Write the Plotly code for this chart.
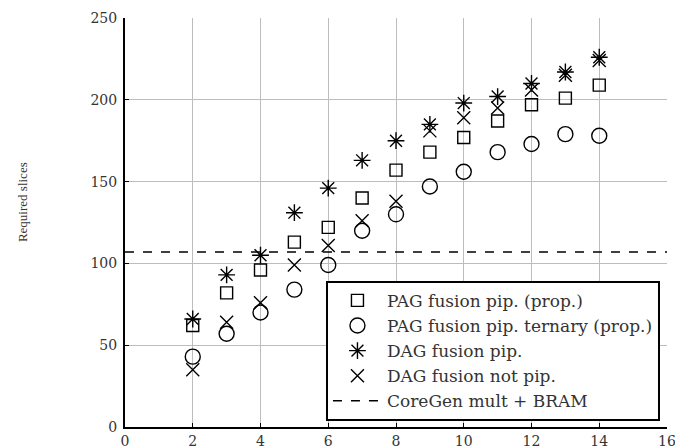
import plotly.graph_objects as go

x_vals = [2, 3, 4, 5, 6, 7, 8, 9, 10, 11, 12, 13, 14]
pag_pip = [62, 82, 96, 113, 122, 140, 157, 168, 177, 187, 197, 201, 209]
pag_ternary = [43, 57, 70, 84, 99, 120, 130, 147, 156, 168, 173, 179, 178]
dag_pip = [66, 93, 105, 131, 146, 163, 175, 185, 198, 202, 210, 217, 226]
dag_not_pip = [35, 64, 76, 99, 111, 126, 138, 181, 189, 195, 206, 215, 224]
coregen_x = [0, 16]
coregen_y = [107, 107]

names = ["PAG fusion pip. (prop.)", "PAG fusion pip. ternary (prop.)",
         "DAG fusion pip.", "DAG fusion not pip.", "CoreGen mult + BRAM"]

FONT = "DejaVu Serif"

fig = go.Figure()
series = [
    (pag_pip, "square-open", 12),
    (pag_ternary, "circle-open", 15),
    (dag_pip, "asterisk-open", 14),
    (dag_not_pip, "x-thin-open", 13),
]
for (vals, sym, sz), nm in zip(series, names[:4]):
    fig.add_trace(go.Scatter(
        x=x_vals, y=vals, mode="markers", name=nm,
        marker=dict(symbol=sym, size=sz, color="black",
                    line=dict(color="black", width=1.4)),
    ))
fig.add_trace(go.Scatter(
    x=coregen_x, y=coregen_y, mode="lines", name=names[4],
    line=dict(color="black", width=1.5, dash="dash"),
))

axis_common = dict(
    showgrid=True, gridcolor="#bdbdbd", gridwidth=1,
    zeroline=False, showline=True, linecolor="black", linewidth=2,
    ticks="inside", ticklen=4, tickcolor="black",
    tickfont=dict(family=FONT, size=14, color="#333"),
    ticklabeloverflow="allow",
)

fig.update_xaxes(range=[0, 16], tickvals=[0, 2, 4, 6, 8, 10, 12, 14, 16],
                 automargin=False, **axis_common)
fig.update_yaxes(range=[0, 250], tickvals=[0, 50, 100, 150, 200, 250],
                 automargin=False, ticklabelstandoff=3, **axis_common)

fig.add_annotation(
    text="Required slices", xref="paper", yref="paper",
    x=-0.19, y=0.55, textangle=-90, showarrow=False,
    font=dict(family="Liberation Serif", size=13, color="#333"),
    xanchor="center", yanchor="middle",
)

fig.update_layout(
    width=675, height=448,
    margin=dict(l=125, r=8, t=18, b=21),
    plot_bgcolor="white", paper_bgcolor="white",
    font=dict(family=FONT, color="#333"),
    legend=dict(
        x=0.987, y=0.015, xanchor="right", yanchor="bottom",
        bgcolor="white", bordercolor="black", borderwidth=2,
        font=dict(family=FONT, size=17, color="#333"),
        itemwidth=49,
    ),
    showlegend=True,
)

fig.write_html("out.html", config={"displayModeBar": False},
               post_script="document.body.style.margin='0px';")
